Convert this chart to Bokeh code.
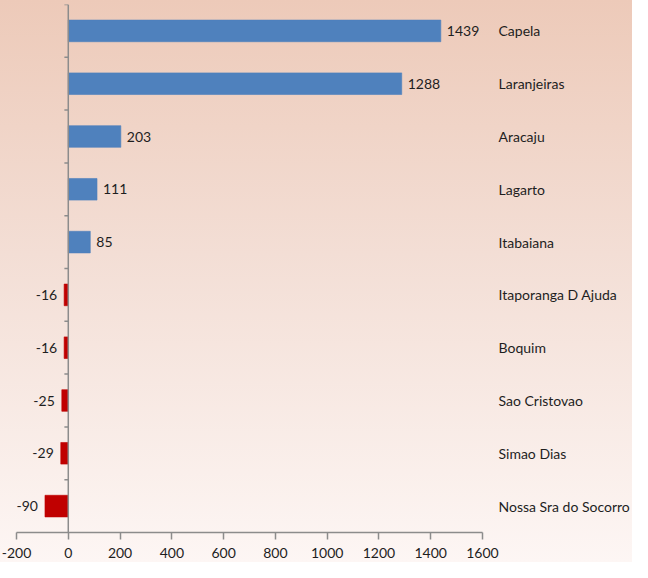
from bokeh.plotting import figure
from bokeh.models import (FactorRange, Range1d, Span, ColumnDataSource,
                          FixedTicker, LabelSet, CustomJSTickFormatter)
from bokeh.transform import dodge
from bokeh.core.properties import value
from bokeh.embed import file_html
from bokeh.resources import INLINE

cities = ["Capela", "Laranjeiras", "Aracaju", "Lagarto", "Itabaiana",
          "Itaporanga D Ajuda", "Boquim", "Sao Cristovao", "Simao Dias",
          "Nossa Sra do Socorro"]
values = [1439, 1288, 203, 111, 85, -16, -16, -25, -29, -90]
x_ticks = [-200, 0, 200, 400, 600, 800, 1000, 1200, 1400, 1600]

FONT = "Lato"
BLUE = "#4F81BD"
RED = "#C00000"
AXIS = "#8C8C8C"
TXT = "#1E1E1E"

colors = [BLUE if v >= 0 else RED for v in values]
pos_labels = [str(v) if v >= 0 else "" for v in values]
neg_labels = [str(v) if v < 0 else "" for v in values]

src = ColumnDataSource(dict(city=cities, val=values, color=colors,
                            pos=pos_labels, neg=neg_labels))

p = figure(width=632, height=562,
           y_range=FactorRange(factors=cities[::-1]),
           x_range=Range1d(x_ticks[0], x_ticks[-1]),
           output_backend="svg", toolbar_location=None,
           y_axis_location="right",
           min_border_left=16, min_border_right=140,
           min_border_top=4, min_border_bottom=30)

p.background_fill_alpha = 0
p.border_fill_alpha = 0
p.styles = {"background": "linear-gradient(to bottom, #EDCAB9 0%, #F3DED5 45%, #FDF6F4 100%)"}
p.outline_line_color = None
p.xgrid.grid_line_color = None
p.ygrid.grid_line_color = None

p.hbar(y="city", left=0, right="val", height=0.41, fill_color="color",
       line_color="color", line_alpha=0.6, source=src)

# value labels
p.add_layout(LabelSet(x="val", y="city", text="pos", x_offset=6,
                      text_align="left", text_baseline="middle",
                      text_font=value(FONT), text_font_size="14px",
                      text_color=TXT, source=src))
p.add_layout(LabelSet(x="val", y="city", text="neg", x_offset=-7,
                      text_align="right", text_baseline="middle",
                      text_font=value(FONT), text_font_size="14px",
                      text_color=TXT, source=src))

# vertical axis at zero with category boundary ticks
p.add_layout(Span(location=0, dimension="height", line_color=AXIS, line_width=1.5))
p.segment(x0=-15, x1=0, y0=dodge("city", 0.5, range=p.y_range),
          y1=dodge("city", 0.5, range=p.y_range), line_color=AXIS,
          line_width=1.5, source=src)

# bottom axis
xa = p.xaxis[0]
xa.ticker = FixedTicker(ticks=x_ticks)
xa.formatter = CustomJSTickFormatter(code="return tick.toFixed(0);")
xa.axis_line_color = AXIS
xa.axis_line_width = 1.5
xa.major_tick_line_color = AXIS
xa.major_tick_line_width = 1.5
xa.major_tick_in = 0
xa.major_tick_out = 7
xa.minor_tick_line_color = None
xa.major_label_standoff = 8
xa.major_label_text_font = FONT
xa.major_label_text_font_size = "14px"
xa.major_label_text_color = TXT

# right category labels
ya = p.yaxis[0]
ya.axis_line_color = None
ya.major_tick_line_color = None
ya.minor_tick_line_color = None
ya.major_label_standoff = 10
ya.major_label_text_font = FONT
ya.major_label_text_font_size = "14px"
ya.major_label_text_color = TXT

open("out.html", "w").write(file_html(p, INLINE))
